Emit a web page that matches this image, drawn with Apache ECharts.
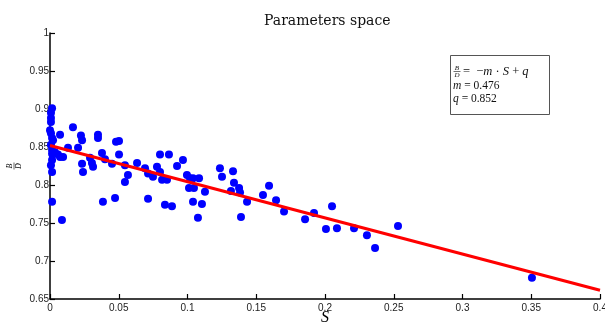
<!DOCTYPE html>
<html>
<head>
<meta charset="utf-8">
<script src="https://cdn.jsdelivr.net/npm/echarts@6/dist/echarts.min.js"></script>
<style>
html,body{margin:0;padding:0;background:#fff;overflow:hidden;}
#c{width:605px;height:323px;}
</style>
</head>
<body>
<div id="c"></div>
<script>
// Scatter points (S, B/D)
const sValues = [
  0.0015,0.0007,0.0007,0.0007,0.0000,0.0007,0.0015,0.0022,0.0007,0.0015,
  0.0015,0.0036,0.0073,0.0073,0.0095,0.0058,0.0015,0.0007,0.0015,0.0015,
  0.0087,
  0.0167,0.0225,0.0233,0.0349,0.0349,0.0131,0.0204,0.0233,0.0240,0.0291,
  0.0305,0.0313,0.0378,0.0400,0.0451,0.0502,0.0385,0.0473,0.0480,0.0502,
  0.0545,0.0567,0.0545,0.0633,0.0691,0.0713,0.0778,0.0800,0.0865,0.0967,
  0.0924,0.0800,0.0749,0.0815,0.0851,0.0713,0.0836,0.0887,0.0996,0.1018,
  0.1040,0.1084,0.1011,0.1047,0.1127,0.1040,0.1105,0.1076,0.1236,0.1251,
  0.1331,0.1338,0.1316,0.1375,0.1382,0.1433,0.1389,0.1549,0.1593,0.1644,
  0.1702,0.1855,0.1920,0.2007,0.2051,0.2087,0.2211,0.2305,0.2364,0.2531,
  0.3505
];
const bdValues = [
  0.901,0.895,0.888,0.883,0.872,0.868,0.862,0.859,0.853,0.846,
  0.841,0.843,0.866,0.837,0.837,0.840,0.833,0.826,0.817,0.778,
  0.754,
  0.876,0.865,0.859,0.866,0.862,0.849,0.849,0.828,0.817,0.836,
  0.829,0.824,0.842,0.834,0.828,0.840,0.778,0.783,0.857,0.858,
  0.826,0.813,0.804,0.829,0.822,0.815,0.824,0.840,0.840,0.833,
  0.825,0.817,0.811,0.807,0.807,0.782,0.774,0.772,0.813,0.809,
  0.809,0.809,0.796,0.796,0.791,0.778,0.775,0.757,0.822,0.811,
  0.818,0.803,0.792,0.796,0.790,0.778,0.758,0.787,0.799,0.780,
  0.765,0.755,0.763,0.742,0.772,0.743,0.743,0.734,0.717,0.746,
  0.678
];
// Fitted line endpoints (B/D = -m*S + q, m = 0.476, q = 0.852)
const fitS = [0, 0.4];
const fitBD = [0.852, 0.6616];
const fitLabels = ['m = 0.476', 'q = 0.852'];
const titleText = 'Parameters space';

const scatterData = sValues.map((s, i) => [s, bdValues[i]]);
const lineData = fitS.map((s, i) => [s, fitBD[i]]);

const serif = '"Liberation Serif","DejaVu Serif",serif';
const chart = echarts.init(document.getElementById('c'), null, {renderer: 'canvas'});
chart.setOption({
  animation: false,
  backgroundColor: '#fff',
  title: {
    text: titleText,
    left: 259, top: 9,
    textStyle: {fontFamily: '"DejaVu Serif",serif', fontSize: 14, fontWeight: 'normal', color: '#111'}
  },
  grid: {left: 50, right: 5, top: 33, bottom: 24, containLabel: false, outerBoundsMode: 'none'},
  xAxis: {
    type: 'value', min: 0, max: 0.4, interval: 0.05,
    name: 'S', nameLocation: 'middle', nameGap: 11, nameMoveOverlap: false,
    nameTextStyle: {fontFamily: serif, fontStyle: 'italic', fontSize: 16, color: '#000', verticalAlign: 'top'},
    axisLine: {show: true, onZero: false, lineStyle: {color: '#000', width: 1.5}},
    axisTick: {show: true, inside: true, length: 5, lineStyle: {color: '#000', width: 1.2}},
    axisLabel: {margin: 4, fontFamily: '"Liberation Sans",Arial,sans-serif', fontSize: 10, color: '#222', hideOverlap: false},
    splitLine: {show: false}
  },
  yAxis: {
    type: 'value', min: 0.65, max: 1, interval: 0.05,
    axisLine: {show: true, onZero: false, lineStyle: {color: '#000', width: 1.5}},
    axisTick: {show: true, inside: true, length: 5, lineStyle: {color: '#000', width: 1.2}},
    axisLabel: {margin: 1, fontFamily: '"Liberation Sans",Arial,sans-serif', fontSize: 10, color: '#222'},
    splitLine: {show: false}
  },
  series: [
    {
      type: 'scatter', data: scatterData, symbol: 'circle', symbolSize: 8,
      itemStyle: {color: '#0000ff', opacity: 1}, z: 2
    },
    {
      type: 'line', data: lineData, symbol: 'none',
      lineStyle: {color: '#ff0000', width: 3}, z: 3
    }
  ],
  graphic: [
    // y-axis label: B/D as a rotated fraction
    {
      type: 'group', x: 14, y: 166, rotation: Math.PI / 2,
      children: [
        {type: 'text', x: 0, y: 0, style: {text: 'B', fontFamily: serif, fontStyle: 'italic', fontSize: 8, fill: '#000', align: 'center', verticalAlign: 'bottom'}},
        {type: 'line', shape: {x1: -3.5, y1: 0, x2: 3.5, y2: 0}, style: {stroke: '#000', lineWidth: 0.6}},
        {type: 'text', x: 0, y: 0.5, style: {text: 'D', fontFamily: serif, fontStyle: 'italic', fontSize: 8, fill: '#000', align: 'center', verticalAlign: 'top'}}
      ]
    },
    // annotation box
    {
      type: 'rect', shape: {x: 450.5, y: 55.5, width: 99, height: 59},
      style: {fill: '#fff', stroke: '#555', lineWidth: 1}, z: 10
    },
    {type: 'text', x: 457, y: 71.5, z: 11, style: {text: 'B', fontFamily: serif, fontStyle: 'italic', fontSize: 7, fill: '#111', align: 'center', verticalAlign: 'bottom'}},
    {type: 'line', z: 11, shape: {x1: 453.5, y1: 71.5, x2: 460.5, y2: 71.5}, style: {stroke: '#111', lineWidth: 0.6}},
    {type: 'text', x: 457, y: 72, z: 11, style: {text: 'D', fontFamily: serif, fontStyle: 'italic', fontSize: 7, fill: '#111', align: 'center', verticalAlign: 'top'}},
    {
      type: 'text', x: 463, y: 72, z: 11,
      style: {
        text: '=  −{i|m} · {i|S} + {i|q}', fontFamily: serif, fontSize: 12.5, fill: '#111', verticalAlign: 'middle',
        rich: {i: {fontFamily: serif, fontStyle: 'italic', fontSize: 12.5, fill: '#111'}}
      }
    },
    {
      type: 'text', x: 453, y: 86, z: 11,
      style: {
        text: '{i|m}' + fitLabels[0].slice(1), fontFamily: serif, fontSize: 11.5, fill: '#111', verticalAlign: 'middle',
        rich: {i: {fontFamily: serif, fontStyle: 'italic', fontSize: 11.5, fill: '#111'}}
      }
    },
    {
      type: 'text', x: 453, y: 99, z: 11,
      style: {
        text: '{i|q}' + fitLabels[1].slice(1), fontFamily: serif, fontSize: 11.5, fill: '#111', verticalAlign: 'middle',
        rich: {i: {fontFamily: serif, fontStyle: 'italic', fontSize: 11.5, fill: '#111'}}
      }
    }
  ]
});
</script>
</body>
</html>
